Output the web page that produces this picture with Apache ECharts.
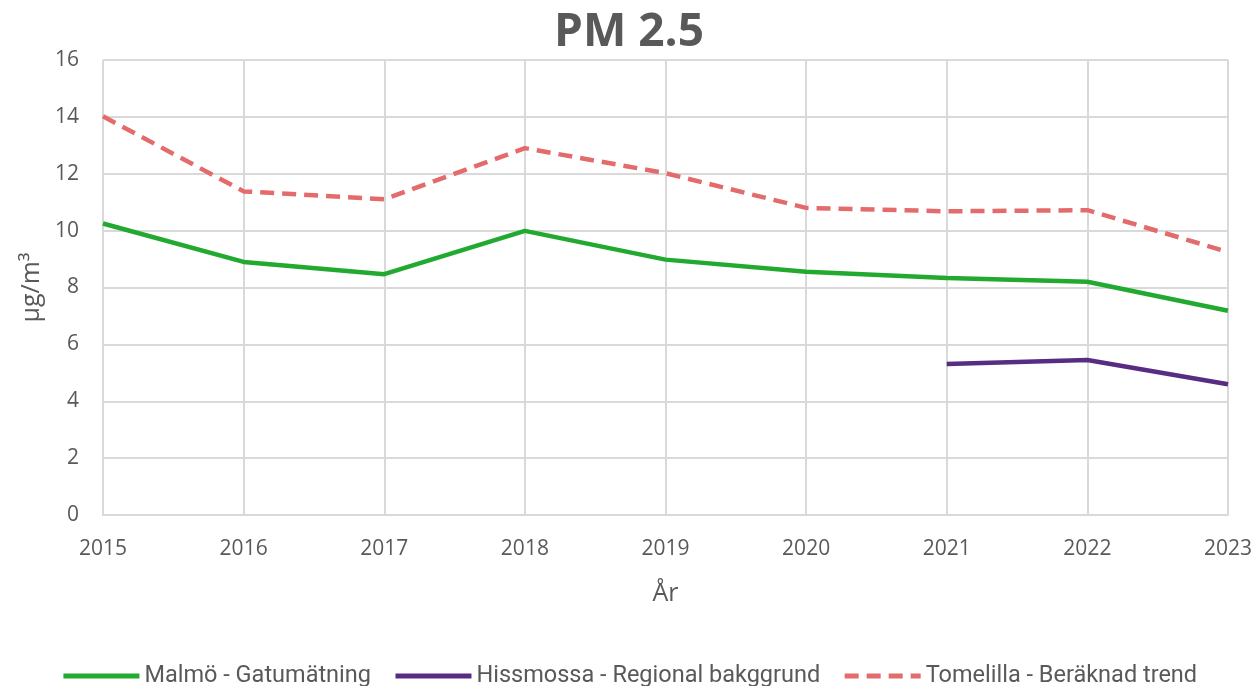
<!DOCTYPE html>
<html>
<head>
<meta charset="utf-8">
<script src="https://cdn.jsdelivr.net/npm/echarts@6/dist/echarts.min.js"></script>
<style>
html, body { margin: 0; padding: 0; background: #fff; }
#chart { width: 1258px; height: 686px; }
</style>
</head>
<body>
<div id="chart"></div>
<script>
var years = ['2015', '2016', '2017', '2018', '2019', '2020', '2021', '2022', '2023'];
var malmo = [10.25, 8.9, 8.47, 9.99, 8.98, 8.55, 8.33, 8.2, 7.18];
var hissmossa = [null, null, null, null, null, null, 5.31, 5.45, 4.6];
var tomelilla = [14.02, 11.38, 11.1, 12.9, 12.02, 10.8, 10.68, 10.72, 9.25];

var textColor = '#595959';
var gridColor = '#d9d9d9';

var chart = echarts.init(document.getElementById('chart'));
chart.setOption({
    animation: false,
    title: {
        text: 'PM 2.5',
        left: 'center',
        top: 5,
        textStyle: {
            color: textColor,
            fontSize: 46,
            fontWeight: 'bold',
            fontFamily: 'Open Sans'
        }
    },
    grid: {
        left: 103,
        right: 30,
        top: 60,
        bottom: 171
    },
    legend: {
        top: 659,
        left: 'center',
        itemWidth: 76,
        itemHeight: 10,
        itemGap: 22,
        lineStyle: { width: 5 },
        itemStyle: { opacity: 0 },
        textStyle: {
            color: textColor,
            fontSize: 23.5,
            fontFamily: 'Roboto'
        },
        data: ['Malmö - Gatumätning', 'Hissmossa - Regional bakggrund', 'Tomelilla - Beräknad trend']
    },
    xAxis: {
        type: 'category',
        data: years,
        boundaryGap: false,
        name: 'År',
        nameLocation: 'middle',
        nameGap: 66,
        nameTextStyle: { color: textColor, fontSize: 25, fontFamily: 'Open Sans' },
        axisLine: { lineStyle: { color: gridColor, width: 2 } },
        axisTick: { show: false },
        axisLabel: { color: textColor, fontSize: 21, margin: 24, fontFamily: 'Open Sans' },
        splitLine: { show: true, lineStyle: { color: gridColor, width: 2 } }
    },
    yAxis: {
        type: 'value',
        min: 0,
        max: 16,
        interval: 2,
        name: 'µg/m³',
        nameLocation: 'middle',
        nameGap: 56,
        nameTextStyle: { color: textColor, fontSize: 25, fontFamily: 'Open Sans' },
        axisLine: { show: false },
        axisTick: { show: false },
        axisLabel: { color: textColor, fontSize: 21, margin: 24, fontFamily: 'Open Sans' },
        splitLine: { lineStyle: { color: gridColor, width: 2 } }
    },
    series: [
        {
            name: 'Malmö - Gatumätning',
            type: 'line',
            data: malmo,
            symbol: 'none',
            lineStyle: { color: '#22a930', width: 4.5 },
            itemStyle: { color: '#22a930' }
        },
        {
            name: 'Hissmossa - Regional bakggrund',
            type: 'line',
            data: hissmossa,
            symbol: 'none',
            lineStyle: { color: '#582c83', width: 4.5 },
            itemStyle: { color: '#582c83' }
        },
        {
            name: 'Tomelilla - Beräknad trend',
            type: 'line',
            data: tomelilla,
            symbol: 'none',
            lineStyle: { color: '#e36b6b', width: 4.5, type: [14, 8] },
            itemStyle: { color: '#e36b6b' }
        }
    ]
});
</script>
</body>
</html>
